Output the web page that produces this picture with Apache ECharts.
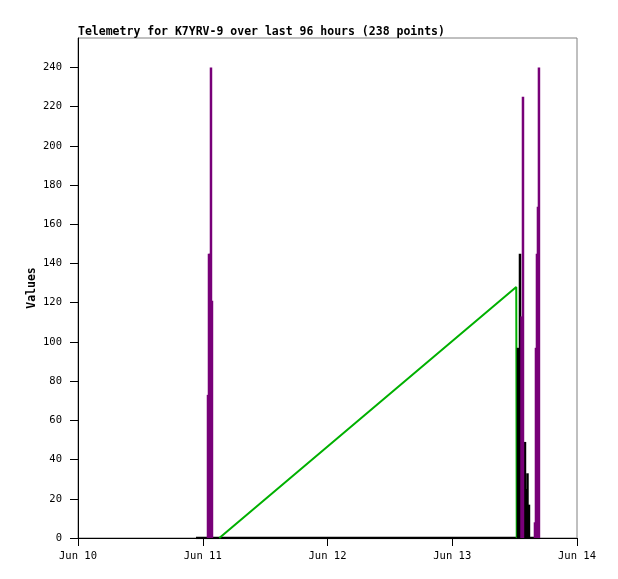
<!DOCTYPE html>
<html>
<head>
<meta charset="utf-8">
<script src="https://cdn.jsdelivr.net/npm/echarts@6/dist/echarts.min.js"></script>
<style>html,body{margin:0;padding:0;background:#fff}#c{width:618px;height:579px}</style>
</head>
<body>
<div id="c"></div>
<script>
// x values are day-of-month (June), fractional
const xTicks = [10, 11, 12, 13, 14];
const yTicks = [0, 20, 40, 60, 80, 100, 120, 140, 160, 180, 200, 220, 240];

const purpleX = [11.042, 11.050, 11.058, 11.066, 11.074, 13.555, 13.567, 13.663, 13.671, 13.679, 13.687, 13.695];
const purpleY = [73, 145, 145, 240, 121, 113, 225, 8, 97, 145, 169, 240];

const blackX = [13.527, 13.543, 13.551, 13.583, 13.591, 13.603, 13.615];
const blackY = [97, 145, 65, 49, 25, 33, 17];

const blackBaseX = [10.946, 13.703];
const blackBaseY = [0, 0];

const greenX = [11.133, 13.513, 13.517];
const greenY = [0, 128, 0];

const zip = (a, b) => a.map((v, i) => [v, b[i]]);
const FONT = 'DejaVu Sans Mono';

const chart = echarts.init(document.getElementById('c'), null, {renderer: 'canvas'});
chart.setOption({
  animation: false,
  backgroundColor: '#fff',
  title: {
    text: 'Telemetry for K7YRV-9 over last 96 hours (238 points)',
    left: 73, top: 21,
    textStyle: {fontFamily: FONT, fontWeight: 'bold', fontSize: 11.5, color: '#000'}
  },
  graphic: [{
    type: 'text', x: 32, y: 288, rotation: Math.PI / 2,
    style: {text: 'Values', fill: '#000', font: 'bold 11.5px "DejaVu Sans Mono"', align: 'center', verticalAlign: 'middle'}
  }],
  grid: {left: 78, right: 41, top: 38, bottom: 41, show: true, borderColor: '#808080', borderWidth: 1, backgroundColor: 'transparent'},
  xAxis: {
    type: 'value', min: 10, max: 14, interval: 1,
    axisLine: {show: true, onZero: false, lineStyle: {color: '#000', width: 1}},
    axisTick: {show: true, length: 8, lineStyle: {color: '#000'}, customValues: xTicks},
    axisLabel: {customValues: xTicks, formatter: v => 'Jun ' + v, margin: 13, color: '#000', fontFamily: FONT, fontSize: 10.5},
    splitLine: {show: false}
  },
  yAxis: {
    type: 'value', min: 0, max: 255,
    axisLine: {show: true, lineStyle: {color: '#000', width: 1}},
    axisTick: {show: true, length: 8, lineStyle: {color: '#000'}, customValues: yTicks},
    axisLabel: {customValues: yTicks, margin: 16, color: '#000', fontFamily: FONT, fontSize: 10.5},
    splitLine: {show: false}
  },
  series: [
    {type: 'line', data: zip(blackBaseX, blackBaseY), symbol: 'none', lineStyle: {color: '#000', width: 2.5}, z: 2},
    {type: 'line', data: zip(greenX, greenY), symbol: 'none', lineStyle: {color: '#00b000', width: 2}, z: 3},
    {type: 'bar', data: zip(blackX, blackY), barWidth: 2.5, barGap: '-100%', itemStyle: {color: '#000'}, z: 4},
    {type: 'bar', data: zip(purpleX, purpleY), barWidth: 2.5, barGap: '-100%', itemStyle: {color: '#780078'}, z: 5}
  ]
});
</script>
</body>
</html>
